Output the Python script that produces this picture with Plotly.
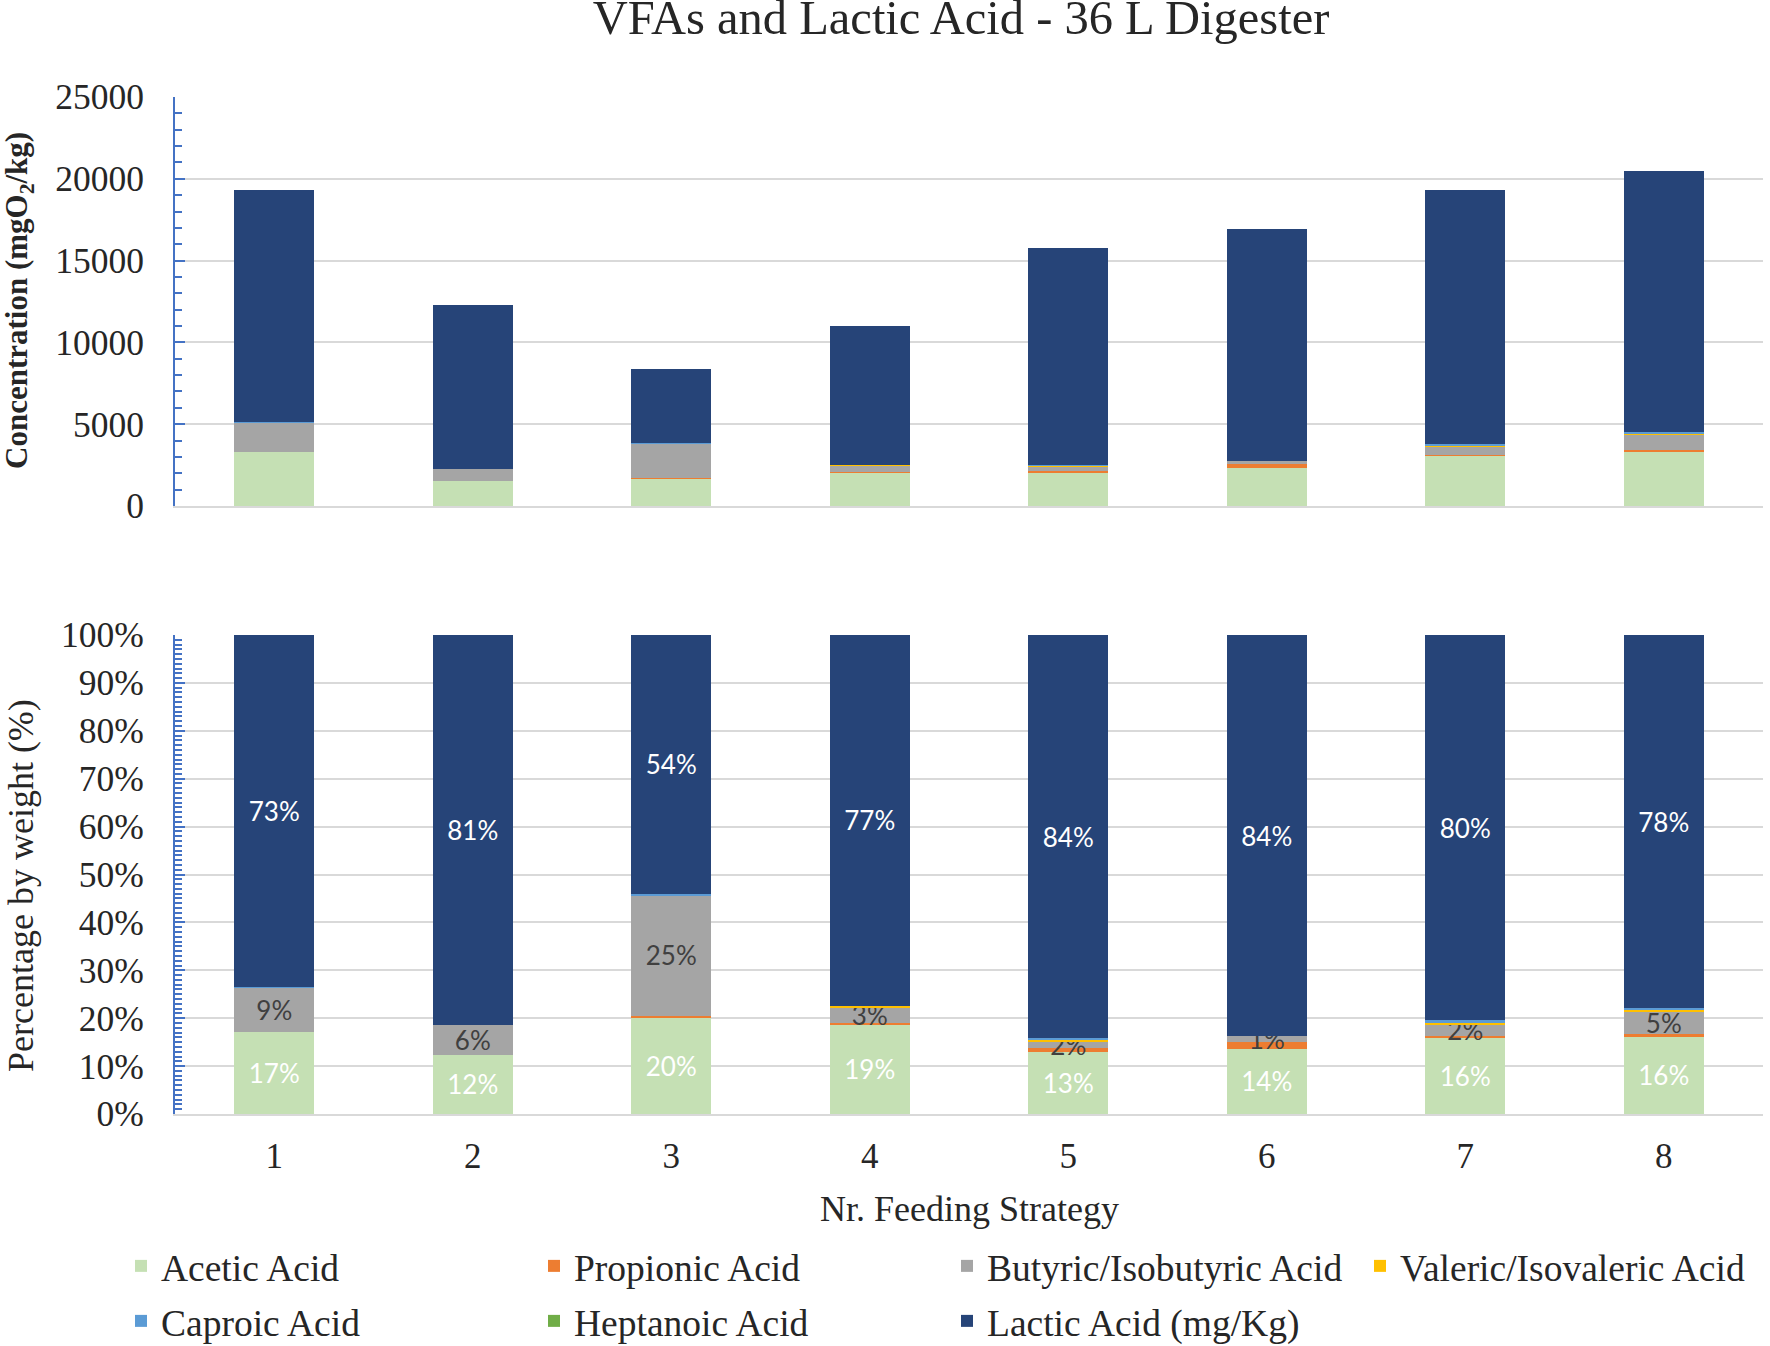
import plotly.graph_objects as go
from plotly.subplots import make_subplots

# ---------------- data (mg/kg) ----------------
strategies = ['1', '2', '3', '4', '5', '6', '7', '8']
acetic    = [3300, 1526, 1687, 2048, 2032, 2300, 3069, 3314]
propionic = [0, 0, 25, 55, 126, 237, 77, 82]
butyric   = [1814, 763, 2104, 352, 240, 203, 463, 961]
valeric   = [0, 0, 0, 33, 55, 0, 77, 102]
caproic   = [20, 0, 25, 0, 47, 0, 97, 61]
heptanoic = [0, 0, 0, 0, 0, 0, 0, 0]
lactic    = [14166, 10017, 4510, 8522, 13258, 14170, 15517, 15935]

series_names = ['Acetic Acid', 'Propionic Acid', 'Butyric/Isobutyric Acid',
                'Valeric/Isovaleric Acid', 'Caproic Acid', 'Heptanoic Acid',
                'Lactic Acid (mg/Kg)']
series_vals = [acetic, propionic, butyric, valeric, caproic, heptanoic, lactic]
colors = ['#C5E0B4', '#ED7D31', '#A5A5A5', '#FFC000', '#5B9BD5', '#70AD47', '#264478']
legend_of = ['legend', 'legend', 'legend', 'legend', 'legend2', 'legend2', 'legend2']
# which series carry data labels in the percentage chart, and their colour
label_color = {0: 'white', 2: '#404040', 6: 'white'}

totals = [sum(v[i] for v in series_vals) for i in range(len(strategies))]
pct_vals = [[100.0 * v[i] / totals[i] for i in range(len(strategies))] for v in series_vals]

SERIF = 'Liberation Serif'
TXT = '#262626'
BLUE_AX = '#4472C4'
GRID = '#D9D9D9'

fig = make_subplots(rows=2, cols=1, shared_xaxes=False, vertical_spacing=0.02)

for k, (name, vals, col) in enumerate(zip(series_names, series_vals, colors)):
    fig.add_trace(go.Bar(x=strategies, y=vals, name=name, marker=dict(color=col, line=dict(width=0)),
                         legend=legend_of[k], legendgroup=name, showlegend=True,
                         hoverinfo='skip'), row=1, col=1)
for k, (name, vals, col) in enumerate(zip(series_names, pct_vals, colors)):
    kw = {}
    if k in label_color:
        kw = dict(texttemplate='%{y:.0f}%', textposition='inside', insidetextanchor='middle',
                  textangle=0, constraintext='none',
                  insidetextfont=dict(family='Lato', size=26, color=label_color[k]))
    fig.add_trace(go.Bar(x=strategies, y=vals, name=name, marker=dict(color=col, line=dict(width=0)),
                         legend=legend_of[k], legendgroup=name, showlegend=False,
                         hoverinfo='skip', **kw), row=2, col=1)

W, H = 1770, 1346
L = 175
T = 97
R = W - 1763
B = H - 1114
PH = H - T - B
PW = W - L - R

def py(ypix):
    return (H - B - ypix) / PH

def px(xpix):
    return (xpix - L) / PW

legend_common = dict(orientation='h', xanchor='left', yanchor='top', traceorder='normal',
                     entrywidth=368, entrywidthmode='pixels',
                     font=dict(family=SERIF, size=37.5, color=TXT), bgcolor='rgba(0,0,0,0)')

fig.update_layout(
    width=W, height=H,
    margin=dict(l=L, r=R, t=T, b=B, autoexpand=False),
    paper_bgcolor='white', plot_bgcolor='white',
    barmode='stack', bargap=0.597,
    uniformtext=dict(minsize=26, mode='show'),
    title=dict(text='VFAs and Lactic Acid - 36 L Digester', x=px(961), xref='paper', xanchor='center',
               y=1, yref='container', yanchor='top', pad=dict(t=0, b=0, l=0, r=0),
               font=dict(family=SERIF, size=48.5, color=TXT)),
    legend=dict(legend_common, x=px(121), y=py(1235)),
    legend2=dict(legend_common, x=px(121), y=py(1290)),
    showlegend=True,
)

common_x = dict(type='category', showgrid=False, showline=True, linecolor=GRID, linewidth=2,
                ticks='', zeroline=False)
fig.update_xaxes(common_x, row=1, col=1, showticklabels=False, domain=[0, 1])
fig.update_xaxes(common_x, row=2, col=1, showticklabels=True, ticklabelstandoff=10,
                 tickfont=dict(family=SERIF, size=35, color=TXT), domain=[0, 1])

common_y = dict(showgrid=True, gridcolor=GRID, gridwidth=2, showline=True, linecolor=BLUE_AX,
                linewidth=2, ticks='inside', ticklen=10, tickwidth=2, tickcolor=BLUE_AX,
                zeroline=False, ticklabelstandoff=22,
                tickfont=dict(family=SERIF, size=35.5, color=TXT))
fig.update_yaxes(common_y, row=1, col=1, range=[0, 25000], dtick=5000, tickformat='d',
                 domain=[py(506), py(97)],
                 minor=dict(dtick=1000, ticks='inside', ticklen=7, tickwidth=2, tickcolor=BLUE_AX,
                            showgrid=False))
fig.update_yaxes(common_y, row=2, col=1, range=[0, 100], dtick=10, ticksuffix='%',
                 domain=[py(1114), py(635)],
                 minor=dict(dtick=1, ticks='inside', ticklen=7, tickwidth=2, tickcolor=BLUE_AX,
                            showgrid=False))

fig.add_annotation(text='<b>Concentration (mgO<sub>2</sub>/kg)</b>', xref='paper', yref='paper',
                   x=px(19), y=py(301), xanchor='center', yanchor='middle', textangle=-90,
                   showarrow=False, font=dict(family=SERIF, size=31, color=TXT))
fig.add_annotation(text='Percentage by weight (%)', xref='paper', yref='paper',
                   x=px(21), y=py(886), xanchor='center', yanchor='middle', textangle=-90,
                   showarrow=False, font=dict(family=SERIF, size=36, color=TXT))
fig.add_annotation(text='Nr. Feeding Strategy', xref='paper', yref='paper',
                   x=px(969), y=py(1209), xanchor='center', yanchor='middle',
                   showarrow=False, font=dict(family=SERIF, size=36, color=TXT))

# remove the browser's default 8px body margin so the figure fills the window exactly
fig.write_html('out.html', config={'displayModeBar': False},
               post_script="document.body.style.margin='0';")
